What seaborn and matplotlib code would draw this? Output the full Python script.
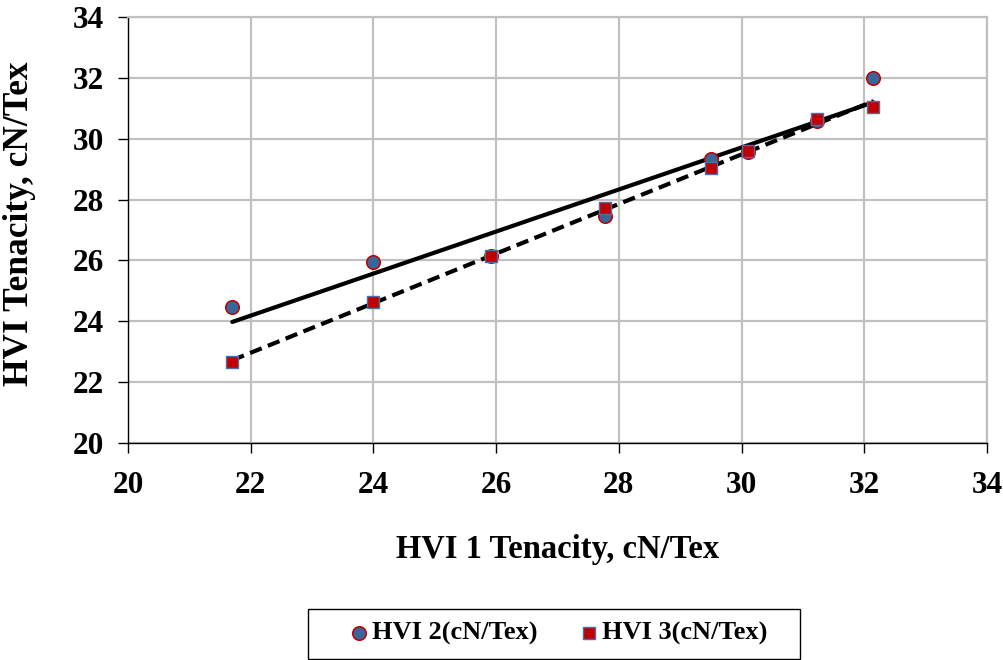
import numpy as np
import pandas as pd
import matplotlib.pyplot as plt
import seaborn as sns
from matplotlib.patches import Rectangle

# =====================================================
# DATA
# =====================================================
hvi1 = [21.7, 24.0, 25.92, 27.77, 29.5, 30.1, 31.23, 32.15]
hvi2 = [24.47, 25.95, 26.15, 27.45, 29.35, 29.56, 30.6, 32.0]
hvi3 = [22.66, 24.63, 26.15, 27.72, 29.05, 29.6, 30.65, 31.05]

label2 = "HVI 2(cN/Tex)"
label3 = "HVI 3(cN/Tex)"

df = pd.DataFrame({"HVI1": hvi1, "HVI2": hvi2, "HVI3": hvi3})

# =====================================================
# STYLE
# =====================================================
sns.set_style("white")
plt.rcParams["font.family"] = ["Liberation Serif", "DejaVu Serif"]
plt.rcParams["font.weight"] = "bold"
plt.rcParams["text.color"] = "black"
plt.rcParams["axes.labelcolor"] = "black"
plt.rcParams["xtick.color"] = "black"
plt.rcParams["ytick.color"] = "black"

fig = plt.figure(figsize=(10.04, 6.6), dpi=100)
ax = fig.add_axes([0.1275, 0.329, 0.8555, 0.645])

# =====================================================
# TREND LINES
# =====================================================
xs = np.array([min(hvi1), max(hvi1)])
p2 = np.polyfit(df["HVI1"], df["HVI2"], 1)
p3 = np.polyfit(df["HVI1"], df["HVI3"], 1)
sns.lineplot(x=xs, y=np.polyval(p2, xs), ax=ax, color="black",
             linewidth=3, zorder=2)
sns.lineplot(x=xs, y=np.polyval(p3, xs), ax=ax, color="black",
             linewidth=3, linestyle=(0, (3, 1.6)), zorder=2)

# =====================================================
# POINTS
# =====================================================
sns.scatterplot(data=df, x="HVI1", y="HVI2", ax=ax, marker="o", s=95,
                color="#3a6598", edgecolor="#c00000", linewidth=1.1,
                label=label2, zorder=3)
sns.scatterplot(data=df, x="HVI1", y="HVI3", ax=ax, marker="s", s=75,
                color="#c00000", edgecolor="#4f6fa8", linewidth=1.0,
                label=label3, zorder=3)

# =====================================================
# AXES
# =====================================================
ax.set_xlim(20, 34)
ax.set_ylim(20, 34)
ax.set_xticks(range(20, 35, 2))
ax.set_yticks(range(20, 35, 2))
ax.grid(True, color="#c0c0c0", linewidth=1.6)
ax.set_axisbelow(True)

for side in ["top", "right"]:
    ax.spines[side].set_color("#c0c0c0")
    ax.spines[side].set_linewidth(1.6)
for side in ["left", "bottom"]:
    ax.spines[side].set_color("black")
    ax.spines[side].set_linewidth(1.0)

ax.tick_params(axis="both", direction="out", length=7, width=1,
               labelsize=22.5, left=True, bottom=True)
ax.tick_params(axis="y", pad=10)
ax.tick_params(axis="x", pad=13)
for lbl in ax.get_xticklabels() + ax.get_yticklabels():
    lbl.set_fontweight("bold")

ax.set_xlabel("HVI 1 Tenacity, cN/Tex", fontsize=23.5, fontweight="bold",
              labelpad=25)
ax.set_ylabel("HVI Tenacity, cN/Tex", fontsize=25.5, fontweight="bold")
ax.yaxis.set_label_coords(-0.107, 0.514)

# =====================================================
# LEGEND
# =====================================================
leg = ax.legend(loc="center left", bbox_to_anchor=(0.3496, 0.041),
                bbox_transform=fig.transFigure, ncol=2, frameon=False,
                prop={"size": 19, "weight": "bold"}, handlelength=0.6,
                handletextpad=0.2, columnspacing=1.63, borderpad=0.0,
                borderaxespad=0.0, markerscale=1.0)

# legend box
fig.patches.append(Rectangle((308 / 1004, 1.5 / 660), 492 / 1004, 50 / 660,
                             transform=fig.transFigure, fill=False,
                             edgecolor="black", linewidth=1.0))

# SAVE
plt.savefig("out.png", dpi=100)
plt.close()
